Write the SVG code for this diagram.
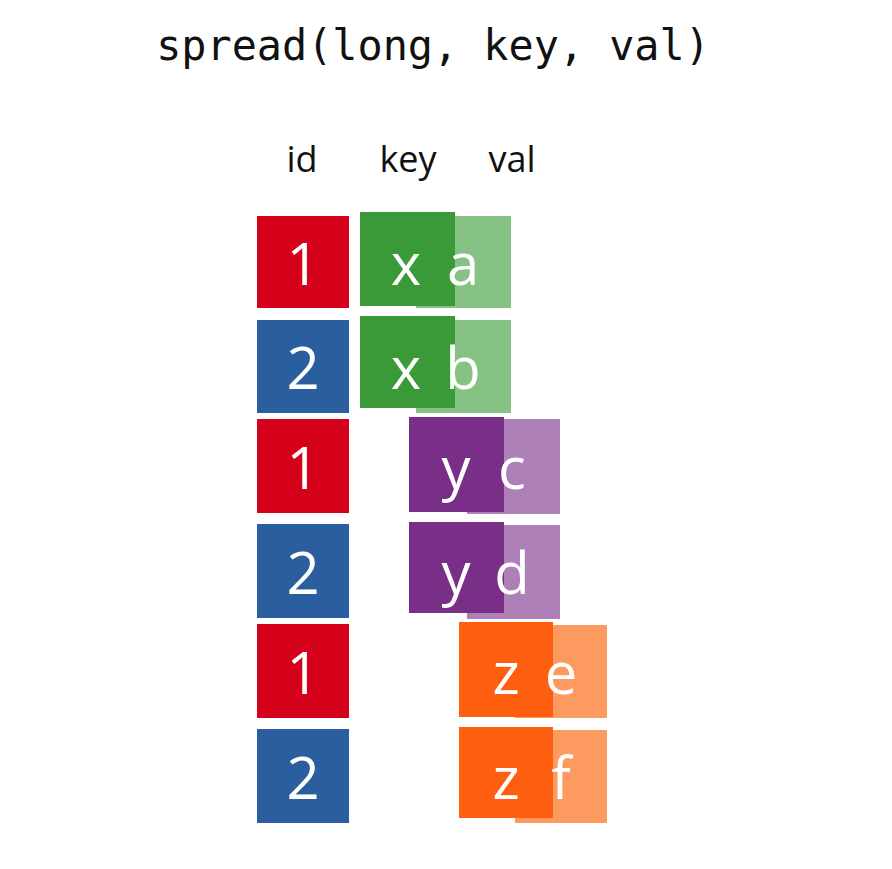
<svg xmlns="http://www.w3.org/2000/svg" width="892" height="869" viewBox="0 0 892 869">
<style>
.title{font-family:"DejaVu Sans Mono","Liberation Mono",monospace;font-size:41.8px;fill:#111;text-anchor:middle}
.hdr{font-family:"Open Sans","Noto Sans",sans-serif;font-size:36px;fill:#111;text-anchor:middle}
.cell{font-family:"Open Sans","Noto Sans",sans-serif;font-size:58px;fill:#fff;text-anchor:middle}
.red{fill:#D5001A}.blue{fill:#2B5E9E}
.g1{fill:#3A9A37}.g2{fill:#86C283}
.p1{fill:#792F88}.p2{fill:#AD80B8}
.o1{fill:#FD5E10}.o2{fill:#FD9A5F}
</style>
<rect width="892" height="869" fill="#fff"/>
<text class="title" x="433" y="60">spread(long, key, val)</text>
<g id="headers">
<text class="hdr" x="302" y="172">id</text>
<text class="hdr" x="408" y="172">key</text>
<text class="hdr" x="512" y="172">val</text>
</g>
<g id="row1">
<rect class="red" x="257" y="216" width="92" height="92"/><text class="cell" x="303" y="285">1</text>
<rect class="g2" x="416" y="216" width="95" height="92"/>
<rect class="g1" x="360" y="212" width="95" height="94"/>
<text class="cell" x="406" y="285">x</text><text class="cell" x="463" y="285">a</text>
</g>
<g id="row2">
<rect class="blue" x="257" y="320" width="92" height="93"/><text class="cell" x="303" y="389">2</text>
<rect class="g2" x="416" y="320" width="95" height="93"/>
<rect class="g1" x="360" y="316" width="95" height="92"/>
<text class="cell" x="406" y="389">x</text><text class="cell" x="463" y="389">b</text>
</g>
<g id="row3">
<rect class="red" x="257" y="419" width="92" height="94"/><text class="cell" x="303" y="489">1</text>
<rect class="p2" x="467" y="419" width="93" height="95"/>
<rect class="p1" x="409" y="417" width="95" height="95"/>
<text class="cell" x="456" y="489">y</text><text class="cell" x="512" y="489">c</text>
</g>
<g id="row4">
<rect class="blue" x="257" y="524" width="92" height="94"/><text class="cell" x="303" y="594">2</text>
<rect class="p2" x="467" y="525" width="93" height="94"/>
<rect class="p1" x="409" y="522" width="95" height="91"/>
<text class="cell" x="456" y="594">y</text><text class="cell" x="512" y="594">d</text>
</g>
<g id="row5">
<rect class="red" x="257" y="624" width="92" height="94"/><text class="cell" x="303" y="694">1</text>
<rect class="o2" x="515" y="625" width="92" height="93"/>
<rect class="o1" x="459" y="622" width="94" height="95"/>
<text class="cell" x="506" y="694">z</text><text class="cell" x="561" y="694">e</text>
</g>
<g id="row6">
<rect class="blue" x="257" y="729" width="92" height="94"/><text class="cell" x="303" y="799">2</text>
<rect class="o2" x="515" y="730" width="92" height="93"/>
<rect class="o1" x="459" y="727" width="94" height="91"/>
<text class="cell" x="506" y="799">z</text><text class="cell" x="561" y="799">f</text>
</g>
<g id="connectors"/>
</svg>
